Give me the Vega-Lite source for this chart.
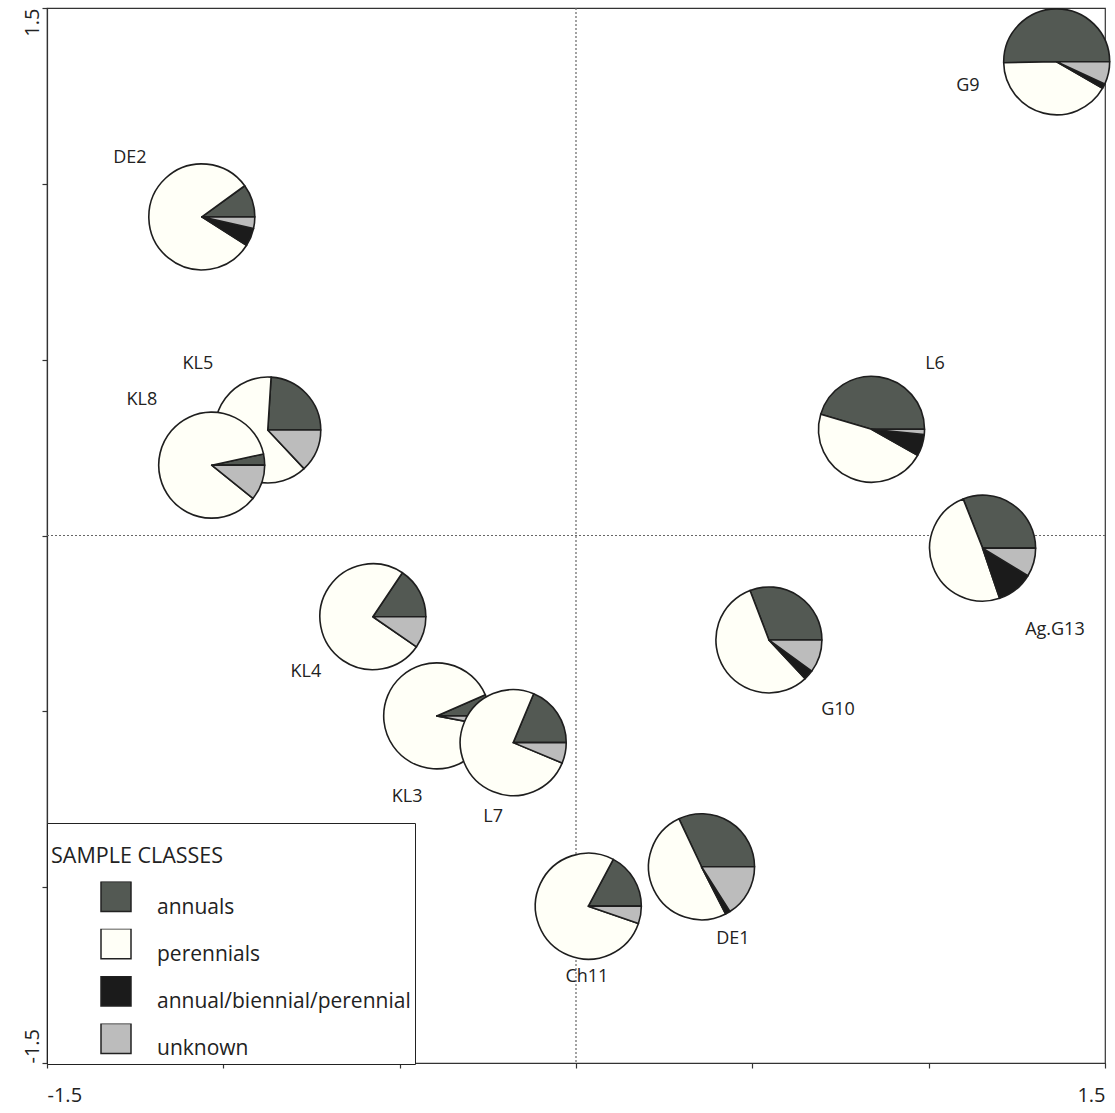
{
  "$schema": "https://vega.github.io/schema/vega-lite/v6.json",
  "width": 1058,
  "height": 1055,
  "autosize": {"type": "none"},
  "padding": {"left": 47, "top": 8, "right": 10, "bottom": 50},
  "background": "white",
  "config": {
    "font": "Open Sans",
    "view": {"stroke": "#333", "strokeWidth": 1.2},
    "axis": {
      "grid": false,
      "title": null,
      "domainColor": "#333",
      "domainWidth": 1.2,
      "tickColor": "#333",
      "tickWidth": 1.2,
      "tickSize": 5,
      "labelFontSize": 20,
      "labelColor": "#222",
      "labelFont": "Open Sans"
    }
  },
  "datasets": {
    "pies": [
      {"sample": "DE2", "x": -1.061, "y": 0.906, "cls": "annuals", "pct": 10},
      {"sample": "DE2", "x": -1.061, "y": 0.906, "cls": "perennials", "pct": 81},
      {"sample": "DE2", "x": -1.061, "y": 0.906, "cls": "annual/biennial/perennial", "pct": 5.5},
      {"sample": "DE2", "x": -1.061, "y": 0.906, "cls": "unknown", "pct": 3.5},
      {"sample": "G9", "x": 1.363, "y": 1.347, "cls": "annuals", "pct": 50.3},
      {"sample": "G9", "x": 1.363, "y": 1.347, "cls": "perennials", "pct": 41.4},
      {"sample": "G9", "x": 1.363, "y": 1.347, "cls": "annual/biennial/perennial", "pct": 1.4},
      {"sample": "G9", "x": 1.363, "y": 1.347, "cls": "unknown", "pct": 6.9},
      {"sample": "KL5", "x": -0.874, "y": 0.3, "cls": "annuals", "pct": 24},
      {"sample": "KL5", "x": -0.874, "y": 0.3, "cls": "perennials", "pct": 63},
      {"sample": "KL5", "x": -0.874, "y": 0.3, "cls": "unknown", "pct": 13},
      {"sample": "KL8", "x": -1.033, "y": 0.2, "cls": "annuals", "pct": 3.4},
      {"sample": "KL8", "x": -1.033, "y": 0.2, "cls": "perennials", "pct": 85.8},
      {"sample": "KL8", "x": -1.033, "y": 0.2, "cls": "unknown", "pct": 10.8},
      {"sample": "L6", "x": 0.838, "y": 0.302, "cls": "annuals", "pct": 45.4},
      {"sample": "L6", "x": 0.838, "y": 0.302, "cls": "perennials", "pct": 46.4},
      {"sample": "L6", "x": 0.838, "y": 0.302, "cls": "annual/biennial/perennial", "pct": 6.6},
      {"sample": "L6", "x": 0.838, "y": 0.302, "cls": "unknown", "pct": 1.6},
      {"sample": "Ag.G13", "x": 1.153, "y": -0.036, "cls": "annuals", "pct": 31},
      {"sample": "Ag.G13", "x": 1.153, "y": -0.036, "cls": "perennials", "pct": 49.2},
      {"sample": "Ag.G13", "x": 1.153, "y": -0.036, "cls": "annual/biennial/perennial", "pct": 11.1},
      {"sample": "Ag.G13", "x": 1.153, "y": -0.036, "cls": "unknown", "pct": 8.7},
      {"sample": "KL4", "x": -0.576, "y": -0.231, "cls": "annuals", "pct": 15.6},
      {"sample": "KL4", "x": -0.576, "y": -0.231, "cls": "perennials", "pct": 74.8},
      {"sample": "KL4", "x": -0.576, "y": -0.231, "cls": "unknown", "pct": 9.6},
      {"sample": "G10", "x": 0.547, "y": -0.297, "cls": "annuals", "pct": 30.8},
      {"sample": "G10", "x": 0.547, "y": -0.297, "cls": "perennials", "pct": 56.2},
      {"sample": "G10", "x": 0.547, "y": -0.297, "cls": "annual/biennial/perennial", "pct": 3},
      {"sample": "G10", "x": 0.547, "y": -0.297, "cls": "unknown", "pct": 10},
      {"sample": "KL3", "x": -0.395, "y": -0.513, "cls": "annuals", "pct": 6.5},
      {"sample": "KL3", "x": -0.395, "y": -0.513, "cls": "perennials", "pct": 90.5},
      {"sample": "KL3", "x": -0.395, "y": -0.513, "cls": "unknown", "pct": 3},
      {"sample": "L7", "x": -0.178, "y": -0.589, "cls": "annuals", "pct": 18.7},
      {"sample": "L7", "x": -0.178, "y": -0.589, "cls": "perennials", "pct": 75},
      {"sample": "L7", "x": -0.178, "y": -0.589, "cls": "unknown", "pct": 6.3},
      {"sample": "Ch11", "x": 0.035, "y": -1.054, "cls": "annuals", "pct": 17.2},
      {"sample": "Ch11", "x": 0.035, "y": -1.054, "cls": "perennials", "pct": 77.5},
      {"sample": "Ch11", "x": 0.035, "y": -1.054, "cls": "unknown", "pct": 5.3},
      {"sample": "DE1", "x": 0.356, "y": -0.942, "cls": "annuals", "pct": 32},
      {"sample": "DE1", "x": 0.356, "y": -0.942, "cls": "perennials", "pct": 50.5},
      {"sample": "DE1", "x": 0.356, "y": -0.942, "cls": "annual/biennial/perennial", "pct": 1.5},
      {"sample": "DE1", "x": 0.356, "y": -0.942, "cls": "unknown", "pct": 16}
    ],
    "labels": [
      {"sample": "DE2", "lx": -1.265, "ly": 1.074},
      {"sample": "G9", "lx": 1.111, "ly": 1.278},
      {"sample": "KL5", "lx": -1.072, "ly": 0.488},
      {"sample": "KL8", "lx": -1.231, "ly": 0.385},
      {"sample": "L6", "lx": 1.018, "ly": 0.488},
      {"sample": "Ag.G13", "lx": 1.358, "ly": -0.269},
      {"sample": "KL4", "lx": -0.766, "ly": -0.388},
      {"sample": "G10", "lx": 0.743, "ly": -0.496},
      {"sample": "KL3", "lx": -0.479, "ly": -0.743},
      {"sample": "L7", "lx": -0.235, "ly": -0.8},
      {"sample": "DE1", "lx": 0.445, "ly": -1.147},
      {"sample": "Ch11", "lx": 0.031, "ly": -1.255}
    ]
  },
  "layer": [
    {
      "data": {"values": [{"z": 0}]},
      "mark": {"type": "rule", "strokeDash": [2, 2], "color": "#666", "strokeWidth": 1.2},
      "encoding": {
        "x": {"field": "z", "type": "quantitative", "scale": {"domain": [-1.5, 1.5], "nice": false, "zero": false},
          "axis": {"values": [-1.5, -1, -0.5, 0, 0.5, 1, 1.5], "labelExpr": "datum.value == -1.5 ? '-1.5' : (datum.value == 1.5 ? '1.5' : '')", "labelFlush": true, "labelPadding": 17}}
      }
    },
    {
      "data": {"values": [{"z": 0}]},
      "mark": {"type": "rule", "strokeDash": [2, 2], "color": "#666", "strokeWidth": 1.2},
      "encoding": {
        "y": {"field": "z", "type": "quantitative", "scale": {"domain": [-1.5, 1.5], "nice": false, "zero": false},
          "axis": {"values": [-1.5, -1, -0.5, 0, 0.5, 1, 1.5], "labelExpr": "datum.value == -1.5 ? '-1.5' : (datum.value == 1.5 ? '1.5' : '')", "labelAngle": -90, "labelBaseline": "alphabetic", "labelAlign": {"condition": {"test": "datum.value > 0", "value": "right"}, "value": "left"}, "labelPadding": 4}}
      }
    },
    {
      "data": {"name": "pies"},
      "transform": [
        {"calculate": "indexof(['annuals','perennials','annual/biennial/perennial','unknown'], datum.cls)", "as": "ord"},
        {"stack": "pct", "groupby": ["sample"], "sort": [{"field": "ord", "order": "ascending"}], "offset": "normalize", "as": ["t0", "t1"]}
      ],
      "mark": {"type": "arc", "outerRadius": 53, "stroke": "#1e1e1e", "strokeWidth": 1.6, "strokeJoin": "round"},
      "encoding": {
        "x": {"field": "x", "type": "quantitative"},
        "y": {"field": "y", "type": "quantitative"},
        "theta": {"field": "t0", "type": "quantitative", "scale": {"domain": [0, 1], "range": [1.5707963, -4.712389]}},
        "theta2": {"field": "t1"},
        "color": {
          "field": "cls",
          "type": "nominal",
          "scale": {
            "domain": ["annuals", "perennials", "annual/biennial/perennial", "unknown"],
            "range": ["#535953", "#fffff7", "#1b1b1b", "#bcbcbc"]
          },
          "legend": {
            "title": "SAMPLE CLASSES",
            "orient": "none",
            "legendX": 0,
            "legendY": 815,
            "direction": "vertical",
            "symbolType": "square",
            "symbolSize": 900,
            "symbolStrokeColor": "#222",
            "symbolStrokeWidth": 1.5,
            "symbolOffset": 49,
            "labelOffset": 25,
            "labelFontSize": 21,
            "labelBaseline": "top",
            "labelLimit": 400,
            "clipHeight": 30,
            "labelColor": "#222",
            "titleFontSize": 21.5,
            "titleFontWeight": "normal",
            "titleColor": "#222",
            "titleBaseline": "line-top",
            "titleLineHeight": 60,
            "titlePadding": 33,
            "rowPadding": 11.3,
            "padding": 4,
            "strokeColor": "#222",
            "fillColor": "white"
          }
        }
      }
    },
    {
      "data": {"name": "labels"},
      "mark": {"type": "text", "fontSize": 18, "color": "#222", "align": "center", "baseline": "middle"},
      "encoding": {
        "x": {"field": "lx", "type": "quantitative"},
        "y": {"field": "ly", "type": "quantitative"},
        "text": {"field": "sample", "type": "nominal"}
      }
    }
  ]
}
